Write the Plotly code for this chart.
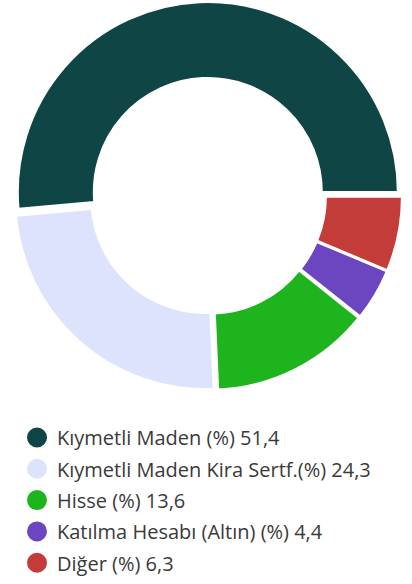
import plotly.graph_objects as go

# Portfolio allocation shares
labels = [
    "Kıymetli Maden (%) 51,4",
    "Kıymetli Maden Kira Sertf.(%) 24,3",
    "Hisse (%) 13,6",
    "Katılma Hesabı (Altın) (%) 4,4",
    "Diğer (%) 6,3",
]
values = [51.4, 24.3, 13.6, 4.4, 6.3]
colors = ["#0F4545", "#DEE3FD", "#1EB41E", "#6C46C0", "#C43C3A"]

W, H = 412, 584

# First slice ends at 3 o'clock; later slices continue counterclockwise
first_share = values[0] / sum(values)
rotation = 90 - 360 * first_share

fig = go.Figure()

fig.add_trace(go.Pie(
    labels=labels,
    values=values,
    sort=False,
    direction="counterclockwise",
    rotation=rotation,
    hole=0.6,
    pull=[0.021] * len(values),
    marker=dict(colors=colors, line=dict(color="#FFFFFF", width=2)),
    textinfo="none",
    hoverinfo="label",
    showlegend=False,
    domain=dict(x=[14 / W, 402 / W], y=[1 - 390 / H, 1 - 2 / H]),
))

# Circle-marker legend entries, one per category
for i, (lab, col) in enumerate(zip(labels, colors)):
    fig.add_trace(go.Scatter(
        x=[None], y=[None],
        mode="markers",
        name=lab,
        legendgroup=f"g{i}",
        marker=dict(symbol="circle", size=16, color=col,
                    line=dict(color=col, width=4)),
        showlegend=True,
        hoverinfo="skip",
    ))

fig.update_layout(
    width=W,
    height=H,
    margin=dict(l=0, r=0, t=0, b=0),
    paper_bgcolor="#FFFFFF",
    plot_bgcolor="#FFFFFF",
    xaxis=dict(visible=False),
    yaxis=dict(visible=False),
    showlegend=True,
    legend=dict(
        orientation="v",
        x=17 / W,
        xanchor="left",
        y=1 - 418 / H,
        yanchor="top",
        traceorder="grouped",
        tracegroupgap=2.3,
        font=dict(family="Open Sans", size=20, color="#3A3A3A"),
        bgcolor="rgba(0,0,0,0)",
        itemclick=False,
        itemdoubleclick=False,
    ),
)

fig.write_html("out.html")
